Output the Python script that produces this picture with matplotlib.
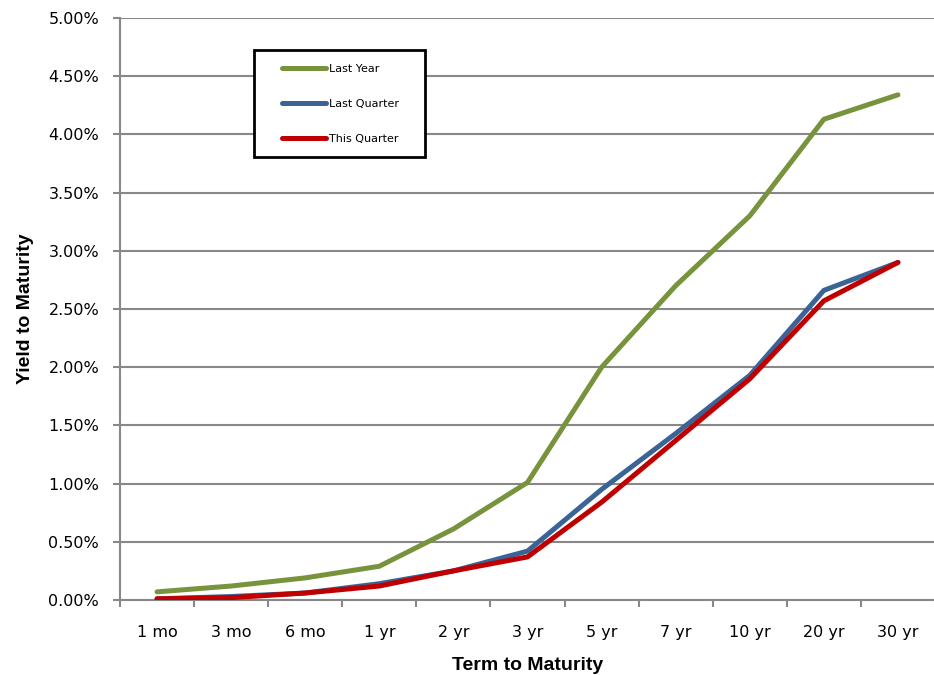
import matplotlib.pyplot as plt
from matplotlib.patches import Rectangle
from matplotlib.ticker import FuncFormatter, FixedLocator

# Curva de rendimientos (yield curve)
terms = ["1 mo", "3 mo", "6 mo", "1 yr", "2 yr", "3 yr", "5 yr", "7 yr", "10 yr", "20 yr", "30 yr"]
last_year = [0.07, 0.12, 0.19, 0.29, 0.61, 1.01, 2.00, 2.70, 3.30, 4.13, 4.34]
last_quarter = [0.01, 0.03, 0.06, 0.14, 0.25, 0.42, 0.95, 1.43, 1.93, 2.66, 2.90]
this_quarter = [0.01, 0.02, 0.06, 0.12, 0.25, 0.37, 0.84, 1.37, 1.90, 2.57, 2.90]

plt.rcParams["font.family"] = ["DejaVu Sans"]
label_font = ["DejaVu Sans Condensed", "Liberation Sans", "DejaVu Sans"]

fig = plt.figure(figsize=(9.34, 6.75), dpi=100)
ax = fig.add_axes([120 / 934, 75 / 675, 815 / 934, 582 / 675])

x = list(range(len(terms)))
ax.plot(x, last_year, color="#77933C", lw=3.6, label="Last Year", solid_capstyle="round", zorder=3)
ax.plot(x, last_quarter, color="#3A6496", lw=3.6, label="Last Quarter", solid_capstyle="round", zorder=4)
ax.plot(x, this_quarter, color="#C00000", lw=3.6, label="This Quarter", solid_capstyle="round", zorder=5)

ax.set_xlim(-0.5, len(terms) - 0.5)
ax.set_ylim(0, 5.0)
ax.set_yticks([i * 0.5 for i in range(11)])
ax.yaxis.set_major_formatter(FuncFormatter(lambda v, p: f"{v:.2f}%"))
ax.set_xticks(x)
ax.set_xticklabels(terms)
ax.xaxis.set_minor_locator(FixedLocator([i - 0.5 for i in range(len(terms) + 1)]))
ax.tick_params(axis="x", which="major", length=0, pad=18, labelsize=11.5)
ax.tick_params(axis="x", which="minor", length=5, width=1.5, color="#888888")
ax.tick_params(axis="y", length=5, width=1.5, color="#888888", labelsize=11.5, pad=10)

ax.grid(True, axis="y", color="#888888", lw=1.5, zorder=1)
for side in ["top", "right"]:
    ax.spines[side].set_visible(False)
for side in ["left", "bottom"]:
    ax.spines[side].set_color("#888888")
    ax.spines[side].set_linewidth(1.5)

ax.set_xlabel("Term to Maturity", fontsize=14, fontweight="bold", labelpad=12, family=label_font)
ax.set_ylabel("Yield to Maturity", fontsize=14, fontweight="bold", labelpad=10, family=label_font)

# Leyenda con marco propio
box = Rectangle((254, 675 - 157), 171, 107, transform=None, fill=True,
                facecolor="white", edgecolor="black", lw=2, zorder=6)
fig.patches.append(box)
leg = fig.legend(loc="upper left", bbox_to_anchor=(276 / 934, 1 - 58 / 675), frameon=False,
                 fontsize=8, handlelength=4.0, handletextpad=0.3, labelspacing=2.25,
                 borderpad=0)
leg.set_zorder(7)
for line in leg.get_lines():
    line.set_linewidth(3.6)

fig.savefig("out.png", dpi=100)
